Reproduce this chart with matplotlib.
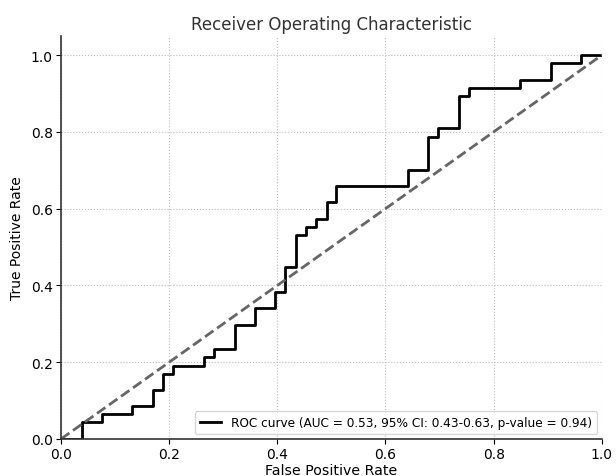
import matplotlib
matplotlib.use("Agg")
import matplotlib.pyplot as plt

# ROC corner points
fpr = [0.0, 0.038, 0.038, 0.075, 0.075, 0.132, 0.132, 0.170, 0.170, 0.189,
       0.189, 0.208, 0.208, 0.264, 0.264, 0.283, 0.283, 0.321, 0.321, 0.358,
       0.358, 0.396, 0.396, 0.415, 0.415, 0.434, 0.434, 0.453, 0.453, 0.472,
       0.472, 0.491, 0.491, 0.509, 0.509, 0.642, 0.642, 0.679, 0.679, 0.698,
       0.698, 0.736, 0.736, 0.755, 0.755, 0.849, 0.849, 0.906, 0.906, 0.962,
       0.962, 1.0]
tpr = [0.0, 0.0, 0.043, 0.043, 0.064, 0.064, 0.085, 0.085, 0.128, 0.128,
       0.170, 0.170, 0.191, 0.191, 0.213, 0.213, 0.234, 0.234, 0.298, 0.298,
       0.340, 0.340, 0.383, 0.383, 0.447, 0.447, 0.532, 0.532, 0.553, 0.553,
       0.574, 0.574, 0.617, 0.617, 0.660, 0.660, 0.702, 0.702, 0.787, 0.787,
       0.809, 0.809, 0.894, 0.894, 0.915, 0.915, 0.936, 0.936, 0.979, 0.979,
       1.0, 1.0]
diag = [0.0, 1.0]

auc_val = 0.53
ci_low, ci_high = 0.43, 0.63
p_value = 0.94

fig = plt.figure(figsize=(6.16, 4.77), dpi=100)
ax = fig.add_axes([0.099, 0.0776, 0.878, 0.845])

label = f"ROC curve (AUC = {auc_val:.2f}, 95% CI: {ci_low:.2f}-{ci_high:.2f}, p-value = {p_value:.2f})"
ax.plot(fpr, tpr, color='black', lw=2, label=label)
ax.plot(diag, diag, color='#666666', lw=2, linestyle='--')

ax.set_xlim(0.0, 1.0)
ax.set_ylim(0.0, 1.05)
ax.set_xlabel('False Positive Rate', fontsize=10.2, labelpad=1.5)
ax.set_ylabel('True Positive Rate', fontsize=10, labelpad=5)
ax.set_title('Receiver Operating Characteristic', fontsize=12, color='#333333', pad=5)
ax.tick_params(labelsize=10, length=3.5, pad=2.5)
ax.grid(True, linestyle=':', color='#bbbbbb', linewidth=0.8)
ax.spines['top'].set_visible(False)
ax.spines['right'].set_visible(False)
ax.spines['left'].set_color('#333333')
ax.spines['bottom'].set_color('#333333')
ax.spines['left'].set_linewidth(1.2)
ax.spines['bottom'].set_linewidth(1.2)
ax.legend(loc='lower right', fontsize=8.7, handlelength=1.8,
          borderaxespad=0.4)

fig.savefig('out.png', dpi=100)
